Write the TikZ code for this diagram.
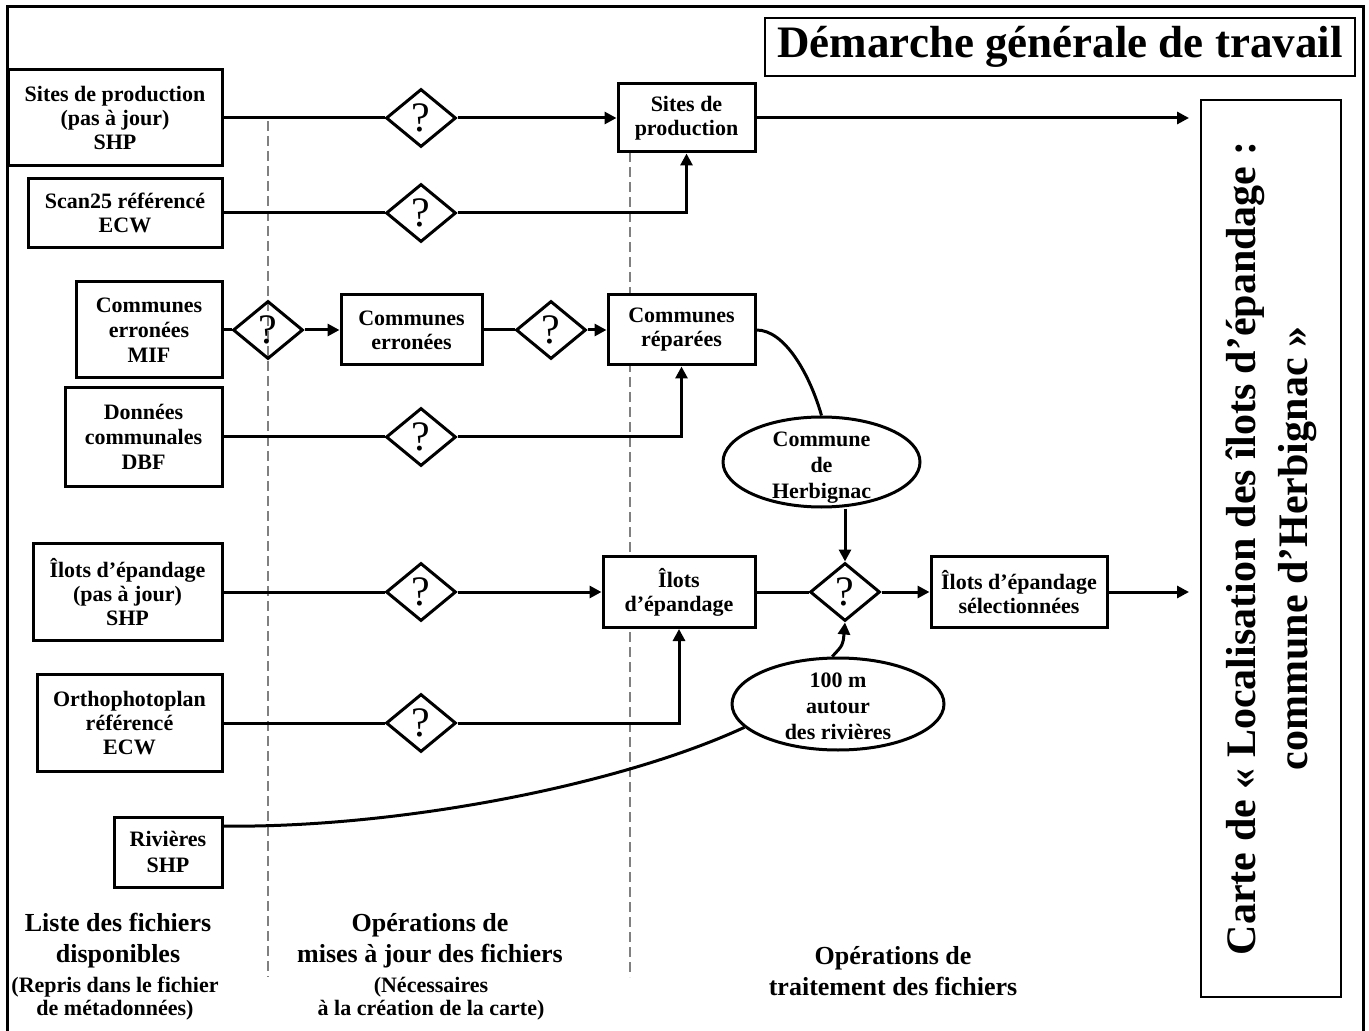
\documentclass[tikz,border=0pt]{standalone}
\usepackage{fontspec}
\setmainfont{Liberation Serif}
\usetikzlibrary{shapes.geometric,arrows.meta}
\begin{document}
\begin{tikzpicture}[x=0.5pt,y=-0.5pt,
  box/.style={draw,line width=1.5pt,fill=white,align=center,inner sep=0pt,
    font=\fontsize{11}{12}\selectfont\bfseries},
  dia/.style={draw,diamond,line width=1.5pt,inner sep=0pt,
    minimum width=35pt,minimum height=29pt,font=\fontsize{21}{21}\selectfont},
  ell/.style={draw,ellipse,line width=1.5pt,fill=white,inner sep=0pt,
    font=\fontsize{11}{13}\selectfont\bfseries},
  con/.style={line width=1.5pt},
  arr/.style={con,-{Triangle[length=6pt,width=6pt]}},
  sep/.style={draw=gray,line width=1pt,dash pattern=on 5pt off 2.5pt},
  lbl/.style={align=center,font=\fontsize{13}{15.5}\selectfont\bfseries},
  sub/.style={align=center,font=\fontsize{11}{11.5}\selectfont\bfseries}]

\useasboundingbox (0,0) rectangle (1369,1031);

% outer frame
\draw[line width=1.5pt] (7,1031) -- (7,7) -- (1363,7) -- (1363,1031);

% separators
\draw[sep] (268,121) -- (268,977);
\draw[sep] (630,152) -- (630,977);

% title and result
\node[draw,line width=1.2pt,inner sep=0pt,minimum width=295pt,minimum height=29pt,
  font=\fontsize{22.5}{24}\selectfont\bfseries] (t) at (1060,47) {Démarche générale de travail};
\node[draw,line width=1pt,fill=white,rotate=90,inner sep=0pt,minimum width=448.5pt,minimum height=70pt,
  align=center,font=\fontsize{21}{26}\selectfont\bfseries] (r) at (1271,548.5)
  {Carte de « Localisation des îlots d’épandage :\\commune d’Herbignac »};

% source files
\node[box,minimum width=107pt,minimum height=48pt] (s1) at (115,118) {Sites de production\\(pas à jour)\\SHP};
\node[box,minimum width=97pt,minimum height=34.5pt] (s2) at (125,213) {Scan25 référencé\\ECW};
\node[box,minimum width=73pt,minimum height=48pt,font=\fontsize{11}{12.5}\selectfont\bfseries] (s3) at (149,330) {Communes\\erronées\\MIF};
\node[box,minimum width=78.5pt,minimum height=49pt,font=\fontsize{11}{12.5}\selectfont\bfseries] (s4) at (143.5,437) {Données\\communales\\DBF};
\node[box,minimum width=94.5pt,minimum height=48.5pt] (s5) at (127.5,592) {Îlots d’épandage\\(pas à jour)\\SHP};
\node[box,minimum width=92.5pt,minimum height=48.5pt] (s6) at (129.5,723) {Orthophotoplan\\référencé\\ECW};
\node[box,minimum width=54pt,minimum height=35pt,font=\fontsize{11}{13}\selectfont\bfseries] (s7) at (168,852) {Rivières\\SHP};

% intermediate / processed files
\node[box,minimum width=68.5pt,minimum height=34pt] (m1) at (686.5,118) {Sites de\\production};
\node[box,minimum width=70.5pt,minimum height=35pt] (m2) at (411.5,330) {Communes\\erronées};
\node[box,minimum width=73.5pt,minimum height=35pt] (m3) at (681.5,330) {Communes\\réparées};
\node[box,minimum width=76pt,minimum height=35.5pt] (m4) at (679,592) {Îlots\\d’épandage};
\node[box,minimum width=88pt,minimum height=35.5pt] (m5) at (1019,592) {Îlots d’épandage\\sélectionnées};

% ellipses
\node[ell,minimum width=98.5pt,minimum height=45pt] (h) at (821.5,462)
  {\smash{\raisebox{-5.5pt}{\begin{tabular}{@{}c@{}}Commune\\de\\Herbignac\end{tabular}}}};
\node[ell,minimum width=106pt,minimum height=46pt] (ri) at (838,704)
  {\smash{\raisebox{-4.75pt}{\begin{tabular}{@{}c@{}}100 m\\autour\\des rivières\end{tabular}}}};

% decisions
\node[dia] (d1) at (421,118) {?};
\node[dia] (d2) at (421,213) {?};
\node[dia] (d3) at (268,330) {?};
\node[dia] (d4) at (551,330) {?};
\node[dia] (d5) at (421,437) {?};
\node[dia] (d6) at (421,592) {?};
\node[dia] (d7) at (421,723) {?};
\node[dia] (d8) at (845,592) {?};

% connectors
\draw[con] (s1.east) -- (d1.west);
\draw[arr] (d1.east) -- (m1.west);
\draw[arr,shorten >=5.5pt] (m1.east) -- (m1.east -| r.north);
\draw[con] (s2.east) -- (d2.west);
\draw[arr] (d2.east) -| (m1.south);

\draw[con] (s3.east) -- (d3.west);
\draw[arr] (d3.east) -- (m2.west);
\draw[con] (m2.east) -- (d4.west);
\draw[arr] (d4.east) -- (m3.west);
\draw[con] (s4.east) -- (d5.west);
\draw[arr] (d5.east) -| (m3.south);

\draw[con] (m3.east) .. controls (785,330) and (810,375) .. (h.north);
\draw[arr] (d8.north |- h.south) -- (d8.north);

\draw[con] (s5.east) -- (d6.west);
\draw[arr] (d6.east) -- (m4.west);
\draw[con] (s6.east) -- (d7.west);
\draw[arr] (d7.east) -| (m4.south);
\draw[con] (m4.east) -- (d8.west);
\draw[arr] (d8.east) -- (m5.west);
\draw[arr,shorten >=5.5pt] (m5.east) -- (m5.east -| r.north);

\draw[con] (s7.25) .. controls (400,828) and (620,785) .. (ri.194);
\draw[arr] (ri.97) .. controls (843,645) .. (d8.south);

% column labels
\node[lbl] (c1) at (118,941) {Liste des fichiers\\disponibles};
\node[sub] (c1b) at (115,999) {(Repris dans le fichier\\de métadonnées)};
\node[lbl] (c2) at (430,941) {Opérations de\\mises à jour des fichiers};
\node[sub] (c2b) at (431,999) {(Nécessaires\\à la création de la carte)};
\node[lbl] (c3) at (893,971) {Opérations de\\traitement des fichiers};

\end{tikzpicture}
\end{document}
